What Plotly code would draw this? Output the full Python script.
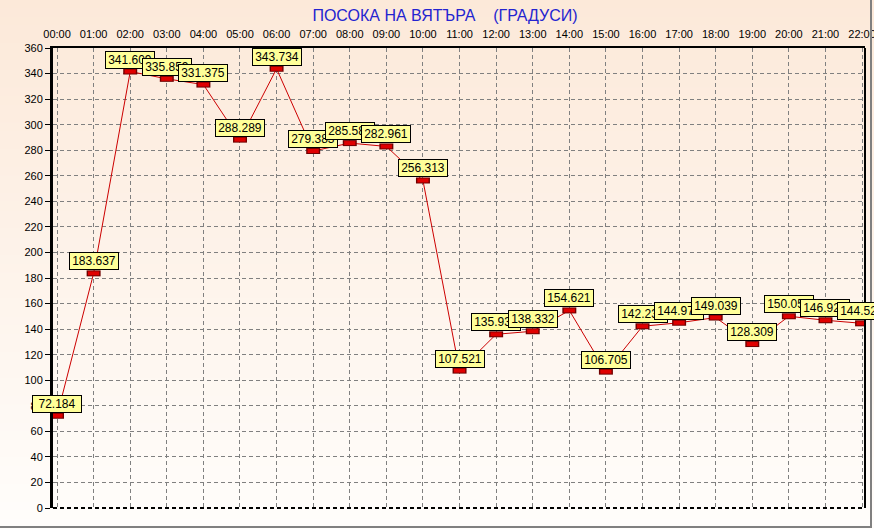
import plotly.graph_objects as go

hours = ["00:00", "01:00", "02:00", "03:00", "04:00", "05:00", "06:00", "07:00",
         "08:00", "09:00", "10:00", "11:00", "12:00", "13:00", "14:00", "15:00",
         "16:00", "17:00", "18:00", "19:00", "20:00", "21:00", "22:00"]
direction = [72.184, 183.637, 341.609, 335.859, 331.375, 288.289, 343.734, 279.383,
             285.583, 282.961, 256.313, 107.521, 135.937, 138.332, 154.621, 106.705,
             142.234, 144.978, 149.039, 128.309, 150.057, 146.926, 144.527]
labels = ["%.3f" % v for v in direction]
y_ticks = list(range(0, 361, 20))

W, H = 874, 529
L, R, T, B = 53, 9, 48, 21
pw, ph = W - L - R, H - T - B

x = list(range(len(hours)))

fig = go.Figure()
fig.add_trace(go.Scatter(x=x, y=direction, mode="lines",
                         line=dict(color="#CC0000", width=1), hoverinfo="skip"))
fig.add_trace(go.Scatter(x=x, y=direction, mode="markers",
                         marker=dict(symbol="line-ew", size=10,
                                     line=dict(color="#700000", width=6)),
                         hoverinfo="skip"))
fig.add_trace(go.Scatter(x=x, y=direction, mode="markers",
                         marker=dict(symbol="line-ew", size=8,
                                     line=dict(color="#E00000", width=4)),
                         hoverinfo="skip"))

# gradient background bands
shapes = []
n = 60
y_bot = -B / ph
y_top = 1 + T / ph
c0 = (252, 233, 217)
c1 = (255, 253, 251)
for i in range(n):
    f = i / (n - 1)
    c = tuple(round(c0[k] + (c1[k] - c0[k]) * f) for k in range(3))
    ya = y_top - (y_top - y_bot) * i / n
    yb = y_top - (y_top - y_bot) * (i + 1) / n
    shapes.append(dict(type="rect", xref="paper", yref="paper", layer="below",
                       x0=-L / pw, x1=(W - L) / pw, y0=yb - 0.002, y1=ya + 0.002,
                       fillcolor="rgb(%d,%d,%d)" % c, line=dict(width=0)))
# plot borders
shapes.append(dict(type="line", xref="paper", yref="paper", x0=1, x1=1, y0=0, y1=1,
                   line=dict(color="black", width=2)))
shapes.append(dict(type="line", xref="paper", yref="paper", x0=0, x1=1, y0=0, y1=0,
                   line=dict(color="black", width=2, dash="4px,3px")))
# outer window frame
shapes.append(dict(type="line", xref="paper", yref="paper",
                   x0=-L / pw, x1=(W - L - 2) / pw, y0=-(B - 2) / ph, y1=-(B - 2) / ph,
                   line=dict(color="#808080", width=2)))
shapes.append(dict(type="line", xref="paper", yref="paper",
                   x0=(W - L - 3) / pw, x1=(W - L - 3) / pw, y0=-(B - 2) / ph, y1=y_top,
                   line=dict(color="#808080", width=2)))

annotations = []
for xi, v, t in zip(x, direction, labels):
    annotations.append(dict(x=xi, y=v, xref="x", yref="y", text=t, showarrow=False,
                            xanchor="center", yanchor="bottom", yshift=3,
                            font=dict(family="Liberation Sans, Arial", size=12, color="black"),
                            bgcolor="#FFFF99", bordercolor="black", borderwidth=1,
                            borderpad=1, width=46, height=14))

fig.update_layout(
    width=W, height=H,
    margin=dict(l=L, r=R, t=T, b=B, autoexpand=False),
    paper_bgcolor="#FDF3EC",
    plot_bgcolor="rgba(0,0,0,0)",
    showlegend=False,
    shapes=shapes,
    annotations=annotations,
    title=dict(text="ПОСОКА НА ВЯТЪРА\u00a0\u00a0\u00a0\u00a0(ГРАДУСИ)",
               x=445 / W, xanchor="center", y=1 - 15 / H, yanchor="middle",
               font=dict(family="Liberation Sans, Arial", size=16, color="#2424D0")),
    font=dict(family="Liberation Sans, Arial", size=11, color="black"),
    xaxis=dict(side="top", tickmode="array", tickvals=x, ticktext=hours,
               range=[-0.11, 22.08], showgrid=True, gridcolor="#808080",
               griddash="4px,3px", gridwidth=1, zeroline=False,
               showline=True, linecolor="black", linewidth=2,
               ticks="outside", ticklen=4, tickcolor="rgba(0,0,0,0)",
               ticklabeloverflow="allow", fixedrange=True),
    yaxis=dict(range=[0, 360], tickmode="array", tickvals=y_ticks,
               showgrid=True, gridcolor="#808080", griddash="4px,3px", gridwidth=1,
               zeroline=False, showline=True, linecolor="black", linewidth=3,
               ticks="outside", ticklen=5, tickcolor="black", tickwidth=1,
               ticklabeloverflow="allow", fixedrange=True),
)

fig.write_html("out.html", config={"displayModeBar": False},
               post_script="document.body.style.margin='0';document.body.style.overflow='hidden';")
